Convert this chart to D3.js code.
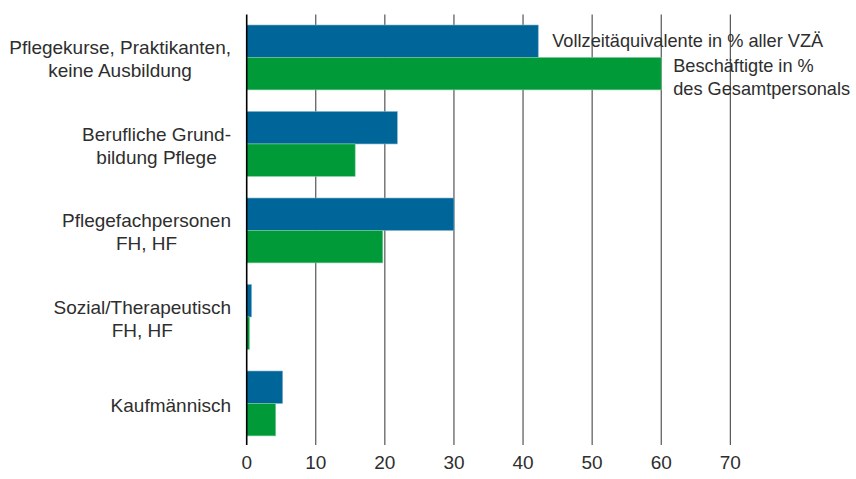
<!DOCTYPE html>
<html><head><meta charset="utf-8">
<script src="https://cdn.jsdelivr.net/npm/d3@7"></script>
<style>body{margin:0;background:#fff;} text{font-family:"Liberation Sans",Arial,sans-serif;fill:#2e2e2e;}</style>
</head><body>
<svg id="c" width="856" height="479"></svg>
<script>
const categories = [
  ["Pflegekurse, Praktikanten,", "keine Ausbildung"],
  ["Berufliche Grund-", "bildung Pflege"],
  ["Pflegefachpersonen", "FH, HF"],
  ["Sozial/Therapeutisch", "FH, HF"],
  ["Kaufmännisch"]
];
const vzae = [42.2, 21.8, 30.0, 0.7, 5.2];
const beschaeftigte = [60.0, 15.7, 19.7, 0.4, 4.2];
const seriesLabels = [["Vollzeitäquivalente in % aller VZÄ"], ["Beschäftigte in %", "des Gesamtpersonals"]];
const ticks = [0, 10, 20, 30, 40, 50, 60, 70];
const colors = ["#006699", "#009a38"];

const svg = d3.select("#c");
const x = d3.scaleLinear().domain([0, 70]).range([246.7, 730.3]);
const y = d3.scaleBand().domain(d3.range(categories.length)).range([14.2, 446.7]).paddingInner(0.25).paddingOuter(0.125);
const sub = d3.scaleBand().domain([0, 1]).range([0, y.bandwidth()]);
const fs = 19;
const fsSeries = 18.2;
const lh = 23;

// category labels
categories.forEach((lines, i) => {
  const g = svg.append("g");
  const cy = y(i) + y.bandwidth() / 2 + 1.5;
  const ts = lines.map((l, j) => g.append("text").attr("font-size", fs).attr("text-anchor", "middle")
    .attr("y", cy + (j - (lines.length - 1) / 2) * lh).attr("dy", "0.35em").text(l));
  const maxW = d3.max(ts, t => t.node().getComputedTextLength());
  ts.forEach(t => t.attr("x", 231 - maxW / 2));
});

// series labels (first group)
const vals = [vzae, beschaeftigte];
seriesLabels.forEach((lines, s) => {
  const cy = y(0) + sub(s) + sub.bandwidth() / 2 + (s === 1 ? -8.5 : -0.5);
  lines.forEach((l, j) => {
    svg.append("text").attr("font-size", fsSeries).attr("x", x(vals[s][0]) + (s === 0 ? 14 : 12))
      .attr("y", cy + j * lh).attr("dy", "0.35em").text(l);
  });
});

// grid lines
svg.append("g").selectAll("line").data(ticks.slice(1)).join("line")
  .attr("x1", d => x(d)).attr("x2", d => x(d)).attr("y1", 14.5).attr("y2", 445)
  .attr("stroke", "#333").attr("stroke-width", 1);

// bars
vals.forEach((v, s) => {
  svg.append("g").selectAll("rect").data(v).join("rect")
    .attr("x", x(0)).attr("y", (d, i) => y(i) + sub(s))
    .attr("width", d => x(d) - x(0)).attr("height", sub.bandwidth())
    .attr("fill", colors[s]).attr("stroke", s === 0 ? "#7fb0cc" : "#7fcc9b").attr("stroke-width", 0.6);
});

// zero axis line
svg.append("line").attr("x1", x(0)).attr("x2", x(0)).attr("y1", 14.5).attr("y2", 445)
  .attr("stroke", "#000").attr("stroke-width", 1.6);

// tick labels
svg.append("g").selectAll("text").data(ticks).join("text")
  .attr("font-size", fs).attr("text-anchor", "middle").attr("x", d => x(d)).attr("y", 469).text(d => d);
</script>
</body></html>
